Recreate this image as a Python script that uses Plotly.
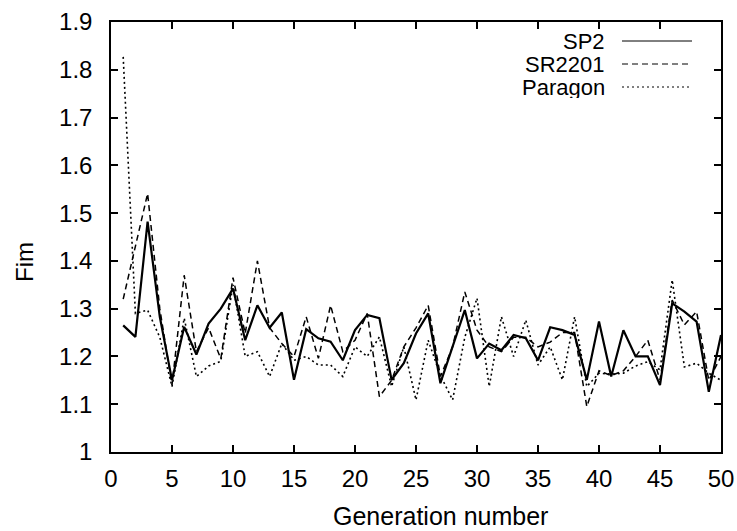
import plotly.graph_objects as go

generations = list(range(1, 51))

sp2 = [1.265, 1.241, 1.482, 1.283, 1.150, 1.262, 1.204, 1.269, 1.300, 1.342,
       1.234, 1.307, 1.260, 1.292, 1.151, 1.257, 1.238, 1.231, 1.192, 1.255,
       1.287, 1.280, 1.151, 1.186, 1.248, 1.290, 1.144, 1.220, 1.297, 1.196,
       1.227, 1.213, 1.245, 1.238, 1.192, 1.261, 1.255, 1.245, 1.151, 1.273,
       1.158, 1.255, 1.200, 1.200, 1.140, 1.311, 1.294, 1.273, 1.126, 1.245]

sr2201 = [1.320, 1.430, 1.541, 1.300, 1.140, 1.370, 1.210, 1.260, 1.195, 1.365,
          1.248, 1.400, 1.260, 1.227, 1.200, 1.283, 1.196, 1.307, 1.210, 1.234,
          1.290, 1.116, 1.150, 1.220, 1.260, 1.307, 1.158, 1.220, 1.335, 1.255,
          1.220, 1.210, 1.240, 1.240, 1.220, 1.230, 1.250, 1.250, 1.095, 1.170,
          1.160, 1.170, 1.200, 1.234, 1.151, 1.318, 1.266, 1.294, 1.150, 1.200]

paragon = [1.827, 1.290, 1.297, 1.240, 1.137, 1.280, 1.158, 1.180, 1.190, 1.350,
           1.200, 1.210, 1.158, 1.227, 1.192, 1.200, 1.182, 1.182, 1.158, 1.220,
           1.200, 1.241, 1.137, 1.220, 1.109, 1.234, 1.160, 1.109, 1.240, 1.322,
           1.137, 1.283, 1.200, 1.276, 1.182, 1.220, 1.151, 1.283, 1.137, 1.165,
           1.163, 1.165, 1.180, 1.189, 1.172, 1.360, 1.178, 1.186, 1.165, 1.150]

series_names = ["SP2", "SR2201", "Paragon"]
x_ticks = list(range(0, 51, 5))
y_ticks = [1 + i / 10 for i in range(10)]
y_tick_labels = ["1", "1.1", "1.2", "1.3", "1.4", "1.5", "1.6", "1.7", "1.8", "1.9"]
x_title = "Generation number"
y_title = "Fim"

FONT = "Liberation Sans, Arial, Helvetica, sans-serif"
FS = 24
W, H = 737, 531
ML, MR, MT, MB = 111, 16, 22, 79

styles = [dict(dash="solid", width=2.2),
          dict(dash="6px,4px", width=1.5),
          dict(dash="2px,3px", width=1.6)]

fig = go.Figure()
for name, vals, st in zip(series_names, [sp2, sr2201, paragon], styles):
    fig.add_trace(go.Scatter(x=generations, y=vals, mode="lines", name=name,
                             line=dict(color="black", **st), showlegend=False))

pw = W - ML - MR
ph = H - MT - MB


def px_x(p):
    return (p - ML) / pw


def px_y(p):
    return 1 - (p - MT) / ph


# legend drawn manually: text, then sample line to the right
legend_y_px = [41, 64, 87]
for name, st, ypx in zip(series_names, styles, legend_y_px):
    fig.add_annotation(x=px_x(607), y=px_y(ypx), xref="paper", yref="paper",
                       text=name, showarrow=False, xanchor="right", yanchor="middle",
                       height=21, valign="middle",
                       font=dict(family=FONT, size=22, color="black"))
    fig.add_shape(type="line", xref="paper", yref="paper",
                  x0=px_x(622), x1=px_x(692), y0=px_y(ypx), y1=px_y(ypx),
                  line=dict(color="black", width=1.0, dash=st["dash"]))

# axis titles
fig.add_annotation(x=px_x(440), y=px_y(516), xref="paper", yref="paper",
                   text=x_title, showarrow=False, xanchor="center", yanchor="middle",
                   font=dict(family=FONT, size=25, color="black"))
fig.add_annotation(x=px_x(24), y=px_y(262), xref="paper", yref="paper",
                   text=y_title, showarrow=False, xanchor="center", yanchor="middle",
                   textangle=-90, font=dict(family=FONT, size=FS, color="black"))

axis_common = dict(showgrid=False, zeroline=False, showline=True, linecolor="black",
                   linewidth=1.5, mirror="ticks", ticks="inside", ticklen=7,
                   tickcolor="black", tickwidth=1.5, automargin=False,
                   tickfont=dict(family=FONT, size=FS, color="black"))

fig.update_xaxes(range=[0, 50], tickvals=x_ticks, ticklabelstandoff=4, **axis_common)
fig.update_yaxes(range=[1, 1.9], tickvals=y_ticks, ticktext=y_tick_labels,
                 ticklabelstandoff=12, **axis_common)

fig.update_layout(width=W, height=H, margin=dict(l=ML, r=MR, t=MT, b=MB),
                  plot_bgcolor="white", paper_bgcolor="white", showlegend=False)

fig.write_html("out.html")
